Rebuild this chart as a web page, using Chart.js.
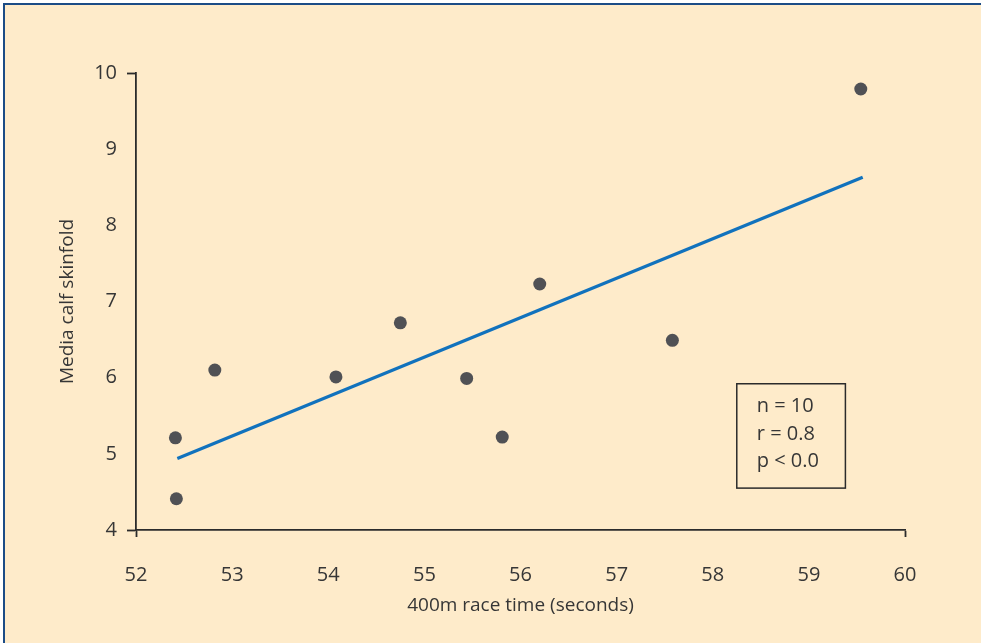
<!DOCTYPE html>
<html>
<head>
<meta charset="utf-8">
<script src="https://cdn.jsdelivr.net/npm/chart.js@4.4.1/dist/chart.umd.min.js"></script>
<style>
    html, body { margin: 0; padding: 0; background: #fff; }
    .panel {
        position: absolute; left: 3px; top: 3px; width: 990px; height: 650px;
        background: #feebca; border-top: 2px solid #1c4c86; border-left: 2px solid #1c4c86;
    }
    .wrap { position: absolute; left: 0; top: 0; width: 981px; height: 643px; }
</style>
</head>
<body>
<div class="panel"></div>
<div class="wrap"><canvas id="chart" width="981" height="643"></canvas></div>
<script>
// race time (s) vs medial calf skinfold, one point per athlete
const raceTime = [52.41, 52.42, 52.82, 54.08, 54.75, 55.44, 55.81, 56.20, 57.58, 59.54];
const calfSkinfold = [5.21, 4.41, 6.10, 6.01, 6.72, 5.99, 5.22, 7.23, 6.49, 9.79];

// least-squares line end points as drawn
const fitX = [52.43, 59.56];
const fitY = [4.94, 8.63];

const xTicks = [52, 53, 54, 55, 56, 57, 58, 59, 60];
const yTicks = [4, 5, 6, 7, 8, 9, 10];

const statLines = ['n = 10', 'r = 0.8', 'p < 0.0'];

const FONT = "'Open Sans', 'Noto Sans', sans-serif";
const INK = '#363636';

// only the end ticks of each axis are drawn
const endTick = ctx => (ctx.index === 0 || ctx.index === ctx.scale.ticks.length - 1) ? '#2b2b2b' : 'rgba(0,0,0,0)';

const statsBox = {
    id: 'statsBox',
    afterDatasetsDraw(chart) {
        const { ctx, scales: { x, y } } = chart;
        const left = x.getPixelForValue(58.25), right = x.getPixelForValue(59.38);
        const top = y.getPixelForValue(5.92), bottom = y.getPixelForValue(4.55);
        ctx.save();
        ctx.strokeStyle = '#2b2b2b';
        ctx.lineWidth = 1.5;
        ctx.strokeRect(left, top, right - left, bottom - top);
        ctx.fillStyle = INK;
        ctx.font = `20px ${FONT}`;
        ctx.textBaseline = 'middle';
        statLines.forEach((t, i) => ctx.fillText(t, left + 20, top + 23 + i * 27.5));
        ctx.restore();
    }
};

new Chart(document.getElementById('chart'), {
    data: {
        datasets: [{
            type: 'scatter',
            data: raceTime.map((v, i) => ({ x: v, y: calfSkinfold[i] })),
            pointRadius: 6.5,
            pointHoverRadius: 6.5,
            pointBackgroundColor: '#505155',
            pointBorderWidth: 0,
            order: 1
        }, {
            type: 'line',
            data: fitX.map((v, i) => ({ x: v, y: fitY[i] })),
            borderColor: '#1172bd',
            borderWidth: 3.2,
            pointRadius: 0,
            fill: false,
            order: 2
        }]
    },
    options: {
        responsive: false,
        animation: false,
        layout: { padding: { left: 0, top: 73, right: 76, bottom: 0 } },
        plugins: { legend: { display: false }, tooltip: { enabled: false } },
        scales: {
            x: {
                type: 'linear', min: 52, max: 60,
                afterBuildTicks: s => { s.ticks = xTicks.map(v => ({ value: v })); },
                afterFit: s => { s.height = 113; },
                border: { display: true, color: '#2b2b2b', width: 1.8 },
                grid: { drawOnChartArea: false, drawTicks: true, tickLength: 7, tickWidth: 1.8, tickColor: endTick },
                ticks: { padding: 26, color: INK, font: { family: FONT, size: 20 }, maxRotation: 0 },
                title: { display: true, text: '400m race time (seconds)', color: INK, font: { family: FONT, size: 19 }, padding: { top: 26, bottom: 26 } }
            },
            y: {
                type: 'linear', min: 4, max: 10,
                afterBuildTicks: s => { s.ticks = yTicks.map(v => ({ value: v })); },
                afterFit: s => { s.width = 136; },
                border: { display: true, color: '#2b2b2b', width: 1.8 },
                grid: { drawOnChartArea: false, drawTicks: true, tickLength: 9, tickWidth: 1.8, tickColor: endTick },
                ticks: { padding: 10, color: INK, font: { family: FONT, size: 20 } },
                title: { display: true, text: 'Media calf skinfold', color: INK, font: { family: FONT, size: 19 }, padding: { top: 56 } }
            }
        }
    },
    plugins: [statsBox]
});
</script>
</body>
</html>
